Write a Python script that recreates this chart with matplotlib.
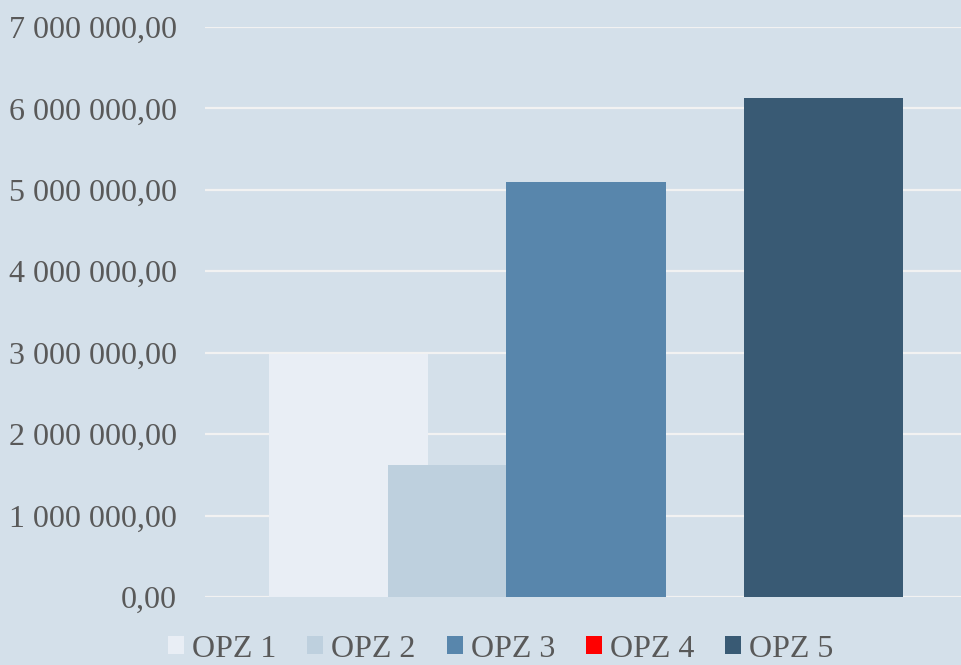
"""
Bar chart of OPZ amounts, overlapped single-group bars
"""
import matplotlib
matplotlib.use("Agg")
import matplotlib.pyplot as plt
from matplotlib.ticker import FuncFormatter

series = ["OPZ 1", "OPZ 2", "OPZ 3", "OPZ 4", "OPZ 5"]
values = [2990000, 1623000, 5097000, 0, 6128000]
colors = ["#E9EEF5", "#BED0DE", "#5886AC", "#FF0000", "#395A74"]
y_ticks = [0, 1000000, 2000000, 3000000, 4000000, 5000000, 6000000, 7000000]

BG = "#D4E0EA"
TEXT = "#595959"

plt.rcParams["font.family"] = ["Liberation Serif", "DejaVu Serif"]


def fmt(v, pos):
    s = f"{v:,.2f}"
    return s.replace(",", " ").replace(".", ",")


fig = plt.figure(figsize=(9.61, 6.65), dpi=100, facecolor=BG)
ax = fig.add_axes([205 / 961, 68 / 665, 762 / 961, 570 / 665])
ax.set_facecolor(BG)

width = 0.2087
step = 0.1558
for i, (name, val, col) in enumerate(zip(series, values, colors)):
    ax.bar((i - 2) * step, val, width=width, color=col, label=name, linewidth=0)

ax.set_xlim(-0.5, 0.5)
ax.set_ylim(0, 7000000)
ax.set_yticks(y_ticks)
ax.yaxis.set_major_formatter(FuncFormatter(fmt))
ax.set_xticks([])
ax.set_axisbelow(True)
ax.grid(axis="y", color="#F2F2F2", linewidth=1.6)
for sp in ax.spines.values():
    sp.set_visible(False)
ax.tick_params(axis="y", length=0, pad=20, labelsize=23, labelcolor=TEXT)

leg = fig.legend(loc="center", bbox_to_anchor=(501 / 961, 0.024), ncol=5,
                 frameon=False, fontsize=23, handlelength=0.5, handleheight=0.5,
                 handletextpad=0.25, columnspacing=0.97, borderpad=0)
for t in leg.get_texts():
    t.set_color(TEXT)

fig.savefig("out.png", dpi=100, facecolor=BG)
